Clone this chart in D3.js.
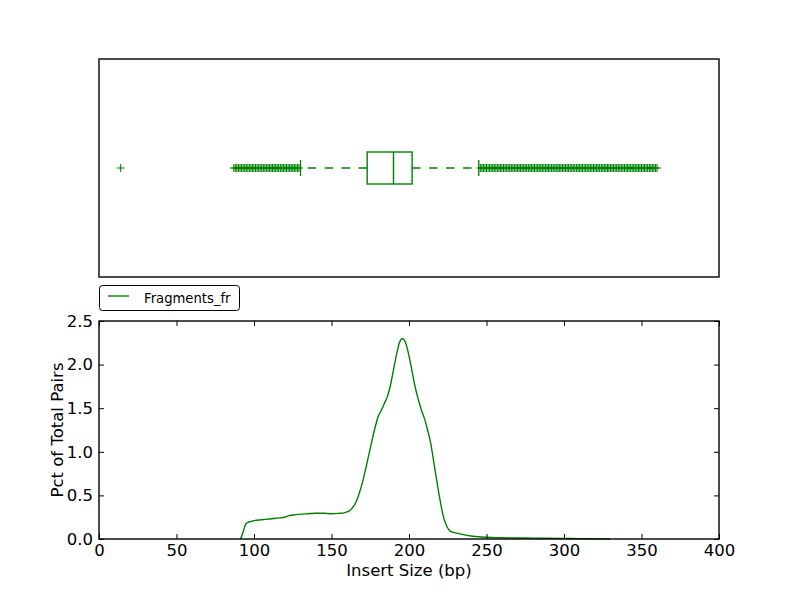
<!DOCTYPE html>
<html><head><meta charset="utf-8">
<script src="https://cdn.jsdelivr.net/npm/d3@7"></script>
<style>body{margin:0;background:#fff}svg{display:block}text{font-family:"DejaVu Sans",sans-serif;fill:#000}</style>
</head><body><svg id="c" width="800" height="600"></svg>
<script>
const seriesName = "Fragments_fr";
const xLabel = "Insert Size (bp)";
const yLabel = "Pct of Total Pairs";
const xTicks = [0, 50, 100, 150, 200, 250, 300, 350, 400];
const yTicks = [0.0, 0.5, 1.0, 1.5, 2.0, 2.5];
const insertSize = [91, 92, 93, 94, 95, 96, 98, 100, 105, 110, 115, 120, 122, 125, 130, 135, 140, 145, 150, 155, 158, 160, 162, 164, 166, 168, 170, 172, 174, 176, 178, 180, 182, 184, 186, 188, 190, 192, 194, 195, 196, 197, 198, 200, 202, 204, 206, 208, 210, 212, 214, 216, 218, 220, 222, 224, 226, 228, 230, 235, 240, 245, 250, 260, 270, 280, 290, 300, 310, 320, 330];
const pctPairs = [0, 0.03, 0.08, 0.14, 0.18, 0.19, 0.20, 0.21, 0.22, 0.23, 0.24, 0.25, 0.265, 0.275, 0.285, 0.29, 0.295, 0.295, 0.29, 0.295, 0.30, 0.31, 0.33, 0.37, 0.43, 0.53, 0.65, 0.80, 0.96, 1.12, 1.27, 1.40, 1.47, 1.55, 1.63, 1.76, 1.94, 2.12, 2.26, 2.29, 2.30, 2.28, 2.24, 2.10, 1.92, 1.74, 1.60, 1.48, 1.38, 1.25, 1.10, 0.88, 0.66, 0.45, 0.27, 0.16, 0.10, 0.08, 0.07, 0.05, 0.035, 0.025, 0.02, 0.015, 0.012, 0.01, 0.008, 0.006, 0.004, 0.002, 0];
const boxStats = [130, 173, 190, 202, 245]; // whiskerLow, q1, median, q3, whiskerHigh
const outliers = [14,
 87, 88, 89, 90, 91, 92, 93, 94, 95, 96, 97, 98, 99, 100, 101, 102, 103, 104, 105, 106, 107, 108, 109, 110,
 111, 112, 113, 114, 115, 116, 117, 118, 119, 120, 121, 122, 123, 124, 125, 126, 127, 128, 129,
 246, 247, 248, 249, 250, 251, 252, 253, 254, 255, 256, 257, 258, 259, 260, 261, 262, 263, 264, 265,
 266, 267, 268, 269, 270, 271, 272, 273, 274, 275, 276, 277, 278, 279, 280, 281, 282, 283, 284, 285,
 286, 287, 288, 289, 290, 291, 292, 293, 294, 295, 296, 297, 298, 299, 300, 301, 302, 303, 304, 305,
 306, 307, 308, 309, 310, 311, 312, 313, 314, 315, 316, 317, 318, 319, 320, 321, 322, 323, 324, 325,
 326, 327, 328, 329, 330, 331, 332, 333, 334, 335, 336, 337, 338, 339, 340, 341, 342, 343, 344, 345,
 346, 347, 348, 349, 350, 351, 352, 353, 354, 355, 356, 357, 358, 359, 360];

const green = "#008000";
const FS = 16.5;
const svg = d3.select("#c");
const L = 99, R = 719;
const top1 = 59, bot1 = 277, top2 = 321, bot2 = 539;
const x = d3.scaleLinear().domain([0, 400]).range([L, R]);
const y = d3.scaleLinear().domain([0, 2.5]).range([bot2, top2]);
const yb = d3.scaleLinear().domain([0.5, 1.5]).range([bot1, top1]);

// top panel: boxplot
const g1 = svg.append("g");
const cy = yb(1);
const [wl, q1, med, q3, wh] = boxStats;
g1.append("line").attr("x1", x(q1)).attr("x2", x(wl)).attr("y1", cy).attr("y2", cy)
  .attr("stroke", green).attr("stroke-width", 1.3).attr("stroke-dasharray", "8.5,8.5");
g1.append("line").attr("x1", x(q3)).attr("x2", x(wh)).attr("y1", cy).attr("y2", cy)
  .attr("stroke", green).attr("stroke-width", 1.3).attr("stroke-dasharray", "8.5,8.5");
[wl, wh].forEach(v => g1.append("line").attr("x1", x(v)).attr("x2", x(v))
  .attr("y1", cy - 8).attr("y2", cy + 8).attr("stroke", green).attr("stroke-width", 1.3));
g1.append("rect").attr("x", x(q1)).attr("y", cy - 16).attr("width", x(q3) - x(q1)).attr("height", 32)
  .attr("fill", "none").attr("stroke", green).attr("stroke-width", 1.4);
g1.append("line").attr("x1", x(med)).attr("x2", x(med)).attr("y1", cy - 16).attr("y2", cy + 16)
  .attr("stroke", green).attr("stroke-width", 1.4);
g1.append("g").selectAll("path").data(outliers).join("path")
  .attr("d", d => `M${x(d) - 4},${cy}H${x(d) + 4}M${x(d)},${cy - 4}V${cy + 4}`)
  .attr("stroke", green).attr("stroke-width", 1.1).attr("fill", "none");
g1.append("rect").attr("x", L).attr("y", top1).attr("width", R - L).attr("height", bot1 - top1)
  .attr("fill", "none").attr("stroke", "#000").attr("stroke-width", 1.4);

// bottom panel: line
const g2 = svg.append("g");
const pts = insertSize.map((v, i) => [v, pctPairs[i]]);
g2.append("path").datum(pts)
  .attr("d", d3.line().x(d => x(d[0])).y(d => y(d[1])).curve(d3.curveMonotoneX))
  .attr("fill", "none").attr("stroke", green).attr("stroke-width", 1.4);

const tl = 5;
const xb = g2.append("g").attr("transform", `translate(0,${bot2})`)
  .call(d3.axisBottom(x).tickValues(xTicks).tickFormat(d3.format("d")).tickSizeInner(-tl).tickSizeOuter(0).tickPadding(5));
const xt = g2.append("g").attr("transform", `translate(0,${top2})`)
  .call(d3.axisTop(x).tickValues(xTicks).tickFormat("").tickSizeInner(-tl).tickSizeOuter(0));
const yl = g2.append("g").attr("transform", `translate(${L},0)`)
  .call(d3.axisLeft(y).tickValues(yTicks).tickFormat(d3.format(".1f")).tickSizeInner(-tl).tickSizeOuter(0).tickPadding(6));
const yr = g2.append("g").attr("transform", `translate(${R},0)`)
  .call(d3.axisRight(y).tickValues(yTicks).tickFormat("").tickSizeInner(-tl).tickSizeOuter(0));
[xb, xt, yl, yr].forEach(a => {
  a.select(".domain").remove();
  a.selectAll("line").attr("stroke", "#000").attr("stroke-width", 1);
  a.selectAll("text").attr("font-size", FS).attr("font-family", "DejaVu Sans").attr("fill", "#000");
});
g2.append("rect").attr("x", L).attr("y", top2).attr("width", R - L).attr("height", bot2 - top2)
  .attr("fill", "none").attr("stroke", "#000").attr("stroke-width", 1.4);

svg.append("text").attr("x", (L + R) / 2).attr("y", 576).attr("text-anchor", "middle")
  .attr("font-size", FS).text(xLabel);
svg.append("text").attr("transform", `translate(63,${(top2 + bot2) / 2}) rotate(-90)`)
  .attr("text-anchor", "middle").attr("font-size", FS).text(yLabel);

// legend
const lg = svg.append("g");
lg.append("rect").attr("x", 99.5).attr("y", 285.5).attr("width", 140).attr("height", 25).attr("rx", 3)
  .attr("fill", "#fff").attr("stroke", "#000").attr("stroke-width", 1);
lg.append("line").attr("x1", 108).attr("x2", 129).attr("y1", 296).attr("y2", 296)
  .attr("stroke", green).attr("stroke-width", 1.4);
lg.append("text").attr("x", 144).attr("y", 302.7).attr("font-size", 13.2).text(seriesName);
</script></body></html>
